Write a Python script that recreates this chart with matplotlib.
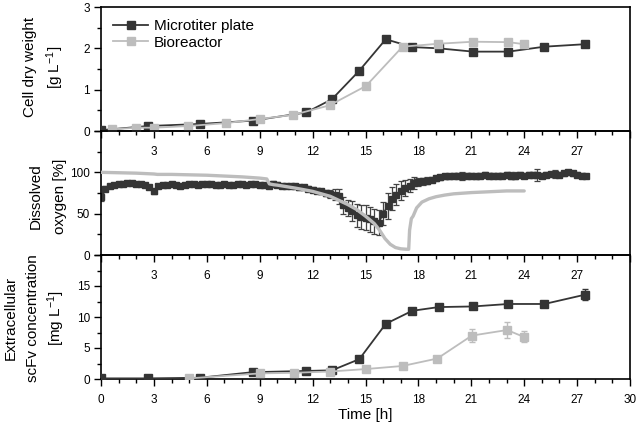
import numpy as np
import matplotlib
matplotlib.use("Agg")
import matplotlib.pyplot as plt
from matplotlib.ticker import MultipleLocator, FixedLocator

plt.rcParams['font.family'] = ['Liberation Sans', 'DejaVu Sans']
plt.rcParams['mathtext.fontset'] = 'custom'
plt.rcParams['mathtext.rm'] = 'Liberation Sans'
plt.rcParams['mathtext.it'] = 'Liberation Sans'
plt.rcParams['mathtext.default'] = 'rm'

# ---------------- data ----------------
# Cell dry weight [g/L]
cdw_mtp_t = [0, 2.65, 5.6, 8.6, 11.65, 13.1, 14.65, 16.15, 17.65, 19.15, 21.1, 23.1, 25.15, 27.45]
cdw_mtp = [0.02, 0.12, 0.17, 0.25, 0.45, 0.77, 1.46, 2.22, 2.03, 2.0, 1.92, 1.92, 2.04, 2.1]
cdw_br_t = [0.6, 2.0, 3.0, 4.95, 7.07, 9.0, 10.9, 12.96, 15.03, 17.1, 19.1, 21.1, 23.1, 24.0]
cdw_br = [0.04, 0.08, 0.08, 0.12, 0.19, 0.29, 0.39, 0.62, 1.09, 2.04, 2.11, 2.16, 2.15, 2.1]

# Dissolved oxygen [%] - microtiter plate (sampled every 0.25 h)
do_mtp_t = np.arange(0, 27.51, 0.25)
do_mtp = [70, 80, 83, 85, 86, 86, 87, 87, 86, 86, 85, 82,
          77, 83, 85, 85, 86, 85, 84, 85, 86, 86, 85, 86,
          86, 86, 85, 85, 86, 85, 85, 86, 86, 85, 86, 86,
          85, 85, 84, 86, 85, 84, 84, 83, 83, 82, 82, 80,
          79, 78, 77, 75, 74, 73, 71, 60, 57, 53, 48, 46,
          45, 43, 41, 39, 50, 59, 68, 73, 78, 81, 84, 87,
          88, 89, 90, 91, 93, 94, 95, 95, 96, 96, 96, 96,
          96, 95, 96, 97, 96, 96, 96, 96, 97, 96, 96, 97,
          96, 97, 97, 97, 96, 97, 98, 98, 97, 99, 100, 99,
          97, 96, 96]
do_mtp_err = [4.5, 3, 2, 2, 2, 2, 2, 2, 2, 2, 2, 2.5,
              3, 2, 2, 2, 2, 2, 2, 2, 2, 2, 2, 2,
              2, 2, 2, 2, 2, 2, 2, 2, 2, 2, 2, 2,
              2, 2, 2, 3, 3, 2, 2, 2, 2, 3, 2, 3,
              3, 3, 3, 4, 5, 7, 9, 10, 10, 12, 14, 15,
              15, 15, 15, 15, 14, 16, 14, 13, 11, 10, 8, 7,
              5, 4, 4, 3, 3, 3, 3, 3, 3, 3, 5, 3,
              3, 3, 3, 3, 3, 3, 3, 3, 3, 4, 4.5, 3,
              3, 3, 3, 7, 3, 3, 3, 5, 3, 3, 3, 3,
              3, 3, 2]
# Dissolved oxygen [%] - bioreactor (continuous)
do_br_t = [0, 1, 2, 3, 3.2, 4, 5, 6, 7, 8, 9, 9.4, 9.55, 9.8, 10, 11, 12, 13, 13.5, 14, 14.5,
           15, 15.5, 15.8, 16.1, 16.4, 16.7, 17.0, 17.3, 17.45, 17.5, 17.6, 17.7, 17.9, 18.2,
           18.6, 19, 19.5, 20, 21, 22, 23, 24]
do_br = [100, 99.5, 99, 98, 97.5, 97.5, 97, 96.5, 95.5, 94.5, 93, 92, 86, 85, 84.5, 81, 77, 71, 66, 61, 55,
         47, 38, 30, 20, 13, 9, 7.5, 7, 7, 30, 44, 47, 57, 64,
         68, 70.5, 72.5, 74, 75.5, 76.5, 77.5, 77.5]

# Extracellular scFv [mg/L]
scfv_mtp = [0.1, 0.1, 0.2, 1.1, 1.3, 1.4, 3.2, 8.9, 11.0, 11.6, 11.7, 12.1, 12.1, 13.6]
scfv_mtp_err = [0, 0, 0, 0.3, 0.4, 0, 0, 0, 0, 0, 0, 0, 0, 0.9]
scfv_br_t = [5.0, 9.0, 10.92, 12.96, 15.0, 17.1, 19.07, 21.03, 23.03, 23.97]
scfv_br = [0.1, 0.9, 1.0, 1.2, 1.6, 2.1, 3.3, 7.0, 7.9, 6.8]
scfv_br_err = [0, 0, 0, 0, 0, 0, 0, 1.1, 1.3, 0.9]

x_major = [0, 3, 6, 9, 12, 15, 18, 21, 24, 27, 30]

# y-axis titles, one entry per text line
cdw_title = ['Cell dry weight', '[g L$^{-1}$]']
do_title = ['Dissolved', 'oxygen [%]']
scfv_title = ['Extracellular', 'scFv concentration', '[mg L$^{-1}$]']

# ---------------- styles ----------------
DARK = '#353535'
LIGHT = '#bdbdbd'
TICK_FS = 8.5
LAB_FS = 11

FW, FH = 638, 425
fig = plt.figure(figsize=(FW / 100, FH / 100), dpi=100)
L, W, H = 101 / FW, 529 / FW, 124 / FH
ax1 = fig.add_axes([L, 1 - 131 / FH, W, H])
ax2 = fig.add_axes([L, 1 - 255 / FH, W, H])
ax3 = fig.add_axes([L, 1 - 379 / FH, W, H])

for ax in (ax1, ax2, ax3):
    ax.patch.set_visible(False)
    ax.set_xlim(0, 30)
    ax.xaxis.set_major_locator(FixedLocator(x_major))
    ax.xaxis.set_minor_locator(MultipleLocator(1))
    ax.tick_params(axis='both', which='major', direction='out', length=5, width=1.0,
                   labelsize=TICK_FS, top=False, right=False)
    ax.tick_params(axis='both', which='minor', direction='out', length=3, width=1.0,
                   top=False, right=False)
    ax.tick_params(axis='x', which='major', pad=5.5)
    ax.tick_params(axis='y', which='major', pad=3)
    for s in ax.spines.values():
        s.set_linewidth(1.2)
        s.set_color('black')


def ytitle(lines, xs_px, yc_px):
    for txt, xp in zip(lines, xs_px):
        fig.text(xp / FW, 1 - yc_px / FH, txt, rotation=90, ha='center', va='center',
                 fontsize=LAB_FS)


# panel 1 - cell dry weight
ax1.plot(cdw_mtp_t, cdw_mtp, '-s', color=DARK, lw=1.3, ms=6, mec=DARK, mfc=DARK,
         label='Microtiter plate', zorder=3)
ax1.plot(cdw_br_t, cdw_br, '-s', color=LIGHT, lw=1.3, ms=6, mec=LIGHT, mfc=LIGHT,
         label='Bioreactor', zorder=4)
ax1.set_ylim(0, 3)
ax1.set_yticks([0, 1, 2, 3])
ax1.yaxis.set_minor_locator(MultipleLocator(0.5))
ax1.set_xticklabels(['', '3', '6', '9', '12', '15', '18', '21', '24', '27', ''])
ax1.legend(loc='upper left', frameon=False, fontsize=LAB_FS, handlelength=2.3,
           handletextpad=0.35, labelspacing=0.15, borderaxespad=0.4,
           bbox_to_anchor=(0.0, 1.0))
ytitle(cdw_title, [30, 55], 67)

# panel 2 - dissolved oxygen
ax2.errorbar(do_mtp_t, do_mtp, yerr=do_mtp_err, fmt='-s', color=DARK, lw=1.2, ms=4,
             elinewidth=0.9, capsize=2.2, capthick=0.9, ecolor='#444444', zorder=2)
ax2.plot(do_br_t, do_br, '-', color=LIGHT, lw=2.4, solid_capstyle='round',
         solid_joinstyle='round', zorder=3)
ax2.set_ylim(0, 150)
ax2.yaxis.set_major_locator(FixedLocator([0, 50, 100, 150]))
ax2.set_yticklabels(['0', '50', '100', ''])
ax2.yaxis.set_minor_locator(MultipleLocator(25))
ax2.set_xticklabels(['', '3', '6', '9', '12', '15', '18', '21', '24', '27', ''])
ytitle(do_title, [36, 60], 196)

# panel 3 - scFv
ax3.errorbar(cdw_mtp_t, scfv_mtp, yerr=scfv_mtp_err, fmt='-s', color=DARK, lw=1.3, ms=6,
             elinewidth=1.0, capsize=2.5, capthick=1.0, zorder=3)
ax3.errorbar(scfv_br_t, scfv_br, yerr=scfv_br_err, fmt='-s', color=LIGHT, lw=1.3, ms=6,
             elinewidth=1.0, capsize=2.5, capthick=1.0, zorder=4)
ax3.set_ylim(0, 20)
ax3.yaxis.set_major_locator(FixedLocator([0, 5, 10, 15, 20]))
ax3.set_yticklabels(['0', '5', '10', '15', ''])
ax3.yaxis.set_minor_locator(MultipleLocator(2.5))
ax3.set_xticklabels([str(v) for v in x_major])
ytitle(scfv_title, [11, 33, 56], 318)
ax3.set_xlabel('Time [h]', fontsize=LAB_FS, labelpad=2)

fig.savefig('out.png', dpi=100)
